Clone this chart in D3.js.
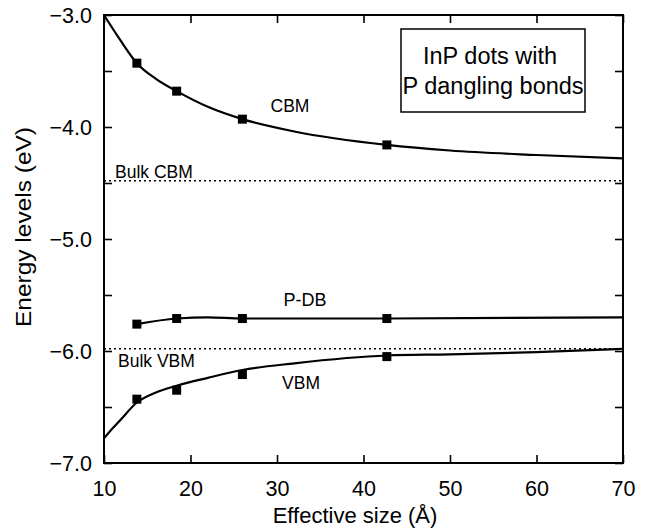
<!DOCTYPE html>
<html>
<head>
<meta charset="utf-8">
<script src="https://cdn.jsdelivr.net/npm/d3@7"></script>
<style>
  html, body { margin: 0; padding: 0; background: #fff; }
  svg { display: block; font-family: "Liberation Sans", Arial, Helvetica, sans-serif; }
</style>
</head>
<body>
<svg id="chart" width="652" height="531"></svg>
<script>
// ---- data ----
const sizes = [13.8, 18.4, 26.0, 42.7];             // effective size (Å) of computed dots
const cbmValues = [-3.43, -3.68, -3.93, -4.16];     // CBM (eV)
const pdbValues = [-5.76, -5.71, -5.71, -5.71];     // P dangling bond level (eV)
const vbmValues = [-6.43, -6.35, -6.21, -6.05];     // VBM (eV)

// fitted curves
const cbmCurveX = [10, 11.85, 13.8, 16, 18.4, 22, 26, 32, 42.7, 50, 60, 70];
const cbmCurveY = [-3.0, -3.22, -3.43, -3.57, -3.68, -3.82, -3.93, -4.04, -4.16, -4.21, -4.25, -4.28];
const pdbCurveX = [13.8, 18.4, 22, 26, 42.7, 70];
const pdbCurveY = [-5.76, -5.71, -5.70, -5.71, -5.71, -5.70];
const vbmCurveX = [10, 11, 11.85, 13.8, 16, 18.4, 22, 26, 32, 42.7, 50, 60, 70];
const vbmCurveY = [-6.78, -6.69, -6.62, -6.46, -6.37, -6.31, -6.24, -6.17, -6.11, -6.04, -6.03, -6.01, -5.98];

const bulkCBM = -4.48;
const bulkVBM = -5.98;

const xTicks = [10, 20, 30, 40, 50, 60, 70];
const yTicks = [-7.0, -6.5, -6.0, -5.5, -5.0, -4.5, -4.0, -3.5, -3.0];
const yLabelTicks = [-7.0, -6.0, -5.0, -4.0, -3.0];

const xTitle = "Effective size (Å)";
const yTitle = "Energy levels (eV)";
const legendLines = ["InP dots with", "P dangling bonds"];

// ---- layout ----
const L = 104, R = 623, T = 15, B = 463;
const svg = d3.select("#chart");
const x = d3.scaleLinear().domain([10, 70]).range([L, R]);
const y = d3.scaleLinear().domain([-7, -3]).range([B, T]);

// inward ticks on all four sides
const tickLen = 8;
const axB = d3.axisBottom(x).tickValues(xTicks).tickSize(-tickLen).tickFormat(d => d);
const axT = d3.axisTop(x).tickValues(xTicks).tickSize(-tickLen).tickFormat("");
const axL = d3.axisLeft(y).tickValues(yTicks).tickSize(-tickLen)
  .tickFormat(d => yLabelTicks.includes(d) ? d3.format(".1f")(d) : "");
const axR = d3.axisRight(y).tickValues(yTicks).tickSize(-tickLen).tickFormat("");

function style(g) {
  g.select(".domain").remove();
  g.selectAll(".tick line").attr("stroke", "#000").attr("stroke-width", 1.6);
  g.selectAll(".tick text").attr("fill", "#000").attr("font-size", 21.5)
    .attr("font-family", "'Liberation Sans', Arial, sans-serif");
}
const gB = svg.append("g").attr("transform", `translate(0,${B})`).call(axB).call(style);
gB.selectAll(".tick text").attr("dy", null).attr("y", 33);
svg.append("g").attr("transform", `translate(0,${T})`).call(axT).call(style);
const gL = svg.append("g").attr("transform", `translate(${L},0)`).call(axL).call(style);
gL.selectAll(".tick text").attr("x", -12).attr("dy", "0.36em");
svg.append("g").attr("transform", `translate(${R},0)`).call(axR).call(style);

// frame
svg.append("rect").attr("x", L).attr("y", T).attr("width", R - L).attr("height", B - T)
  .attr("fill", "none").attr("stroke", "#000").attr("stroke-width", 2);

// bulk reference lines
[bulkCBM, bulkVBM].forEach(v => {
  svg.append("line").attr("x1", L).attr("x2", R).attr("y1", y(v)).attr("y2", y(v))
    .attr("stroke", "#000").attr("stroke-width", 1.5).attr("stroke-dasharray", "2,3");
});

// curves
const line = d3.line().x(d => x(d[0])).y(d => y(d[1])).curve(d3.curveMonotoneX);
[[cbmCurveX, cbmCurveY], [pdbCurveX, pdbCurveY], [vbmCurveX, vbmCurveY]].forEach(([xs, ys]) => {
  svg.append("path").datum(xs.map((v, i) => [v, ys[i]])).attr("d", line)
    .attr("fill", "none").attr("stroke", "#000").attr("stroke-width", 2.2);
});

// square markers
const sq = 9;
[cbmValues, pdbValues, vbmValues].forEach(vals => {
  svg.append("g").selectAll("rect").data(sizes.map((s, i) => [s, vals[i]])).join("rect")
    .attr("x", d => x(d[0]) - sq / 2).attr("y", d => y(d[1]) - sq / 2)
    .attr("width", sq).attr("height", sq).attr("fill", "#000");
});

// series labels
const lab = (t, xx, yy, anchor, fs) => svg.append("text").text(t).attr("x", xx).attr("y", yy)
  .attr("text-anchor", anchor).attr("font-size", fs).attr("fill", "#000");
lab("CBM", 290, 112, "middle", 17.5);
lab("P-DB", 305, 306, "middle", 18);
lab("VBM", 301, 389, "middle", 17.5);
lab("Bulk CBM", 115, 178, "start", 17.5);
lab("Bulk VBM", 118, 367, "start", 17.5);

// legend box
svg.append("rect").attr("x", 401).attr("y", 29).attr("width", 184).attr("height", 83)
  .attr("fill", "#fff").attr("stroke", "#000").attr("stroke-width", 1.5);
lab(legendLines[0], 490, 64, "middle", 23.5);
lab(legendLines[1], 493, 94, "middle", 23.5);

// axis titles
svg.append("text").text(xTitle).attr("x", 355).attr("y", 523).attr("text-anchor", "middle")
  .attr("font-size", 22).attr("fill", "#000");
svg.append("text").text(yTitle).attr("transform", "translate(31,227) rotate(-90)")
  .attr("text-anchor", "middle").attr("font-size", 22).attr("fill", "#000")
  .attr("textLength", 200).attr("lengthAdjust", "spacingAndGlyphs");
</script>
</body>
</html>
